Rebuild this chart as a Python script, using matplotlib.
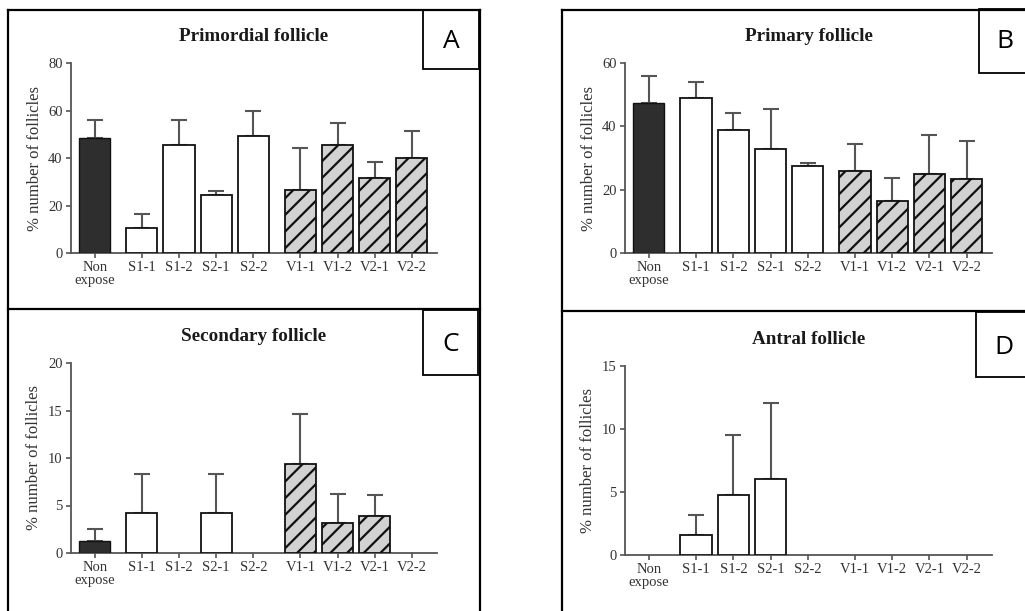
import matplotlib
matplotlib.use("Agg")
import matplotlib.pyplot as plt
from matplotlib.lines import Line2D
from matplotlib.patches import Rectangle
import numpy as np

categories = ["Non\nexpose", "S1-1", "S1-2", "S2-1", "S2-2", "V1-1", "V1-2", "V2-1", "V2-2"]

primordial_mean = [48.6, 10.7, 45.4, 24.4, 49.4, 26.6, 45.6, 31.7, 40.1]
primordial_err = [7.2, 5.9, 10.8, 1.8, 10.4, 17.6, 9.3, 6.8, 11.2]

primary_mean = [47.5, 48.9, 38.8, 32.9, 27.4, 25.8, 16.5, 24.8, 23.4]
primary_err = [8.5, 5.2, 5.4, 12.5, 0.9, 8.5, 7.1, 12.6, 11.9]

secondary_mean = [1.26, 4.18, 0.0, 4.18, 0.0, 9.33, 3.12, 3.89, 0.0]
secondary_err = [1.3, 4.14, 0.0, 4.14, 0.0, 5.27, 3.13, 2.18, 0.0]

antral_mean = [0.0, 1.61, 4.75, 6.05, 0.0, 0.0, 0.0, 0.0, 0.0]
antral_err = [0.0, 1.56, 4.78, 6.02, 0.0, 0.0, 0.0, 0.0, 0.0]

titles = ["Primordial follicle", "Primary follicle", "Secondary follicle", "Antral follicle"]
letters = ["A", "B", "C", "D"]
ylims = [80, 60, 20, 15]
yticks = [[0, 20, 40, 60, 80], [0, 20, 40, 60], [0, 5, 10, 15, 20], [0, 5, 10, 15]]
ylabel = "% number of follicles"

W, H = 1025, 611
fig = plt.figure(figsize=(W / 100, H / 100), dpi=100)
plt.rcParams["hatch.linewidth"] = 1.6

serif = "Liberation Serif"
txtc = "#333333"
axc = "#555555"

# group layout: control, S group, V group
pos = np.array([0, 1.27, 2.27, 3.27, 4.27, 5.54, 6.54, 7.54, 8.54])
styles = (["dark"] + ["white"] * 4 + ["hatch"] * 4)

# axes rectangles in pixels: left, right, y-of-zero, y-of-top
ax_px = [(71, 437, 253, 63), (625, 992, 253, 63), (71, 437, 553, 363), (625, 992, 555, 366)]
datasets = [(primordial_mean, primordial_err), (primary_mean, primary_err),
            (secondary_mean, secondary_err), (antral_mean, antral_err)]

for i, ((l, r, y0, yt), (m, e)) in enumerate(zip(ax_px, datasets)):
    ax = fig.add_axes([l / W, 1 - y0 / H, (r - l) / W, (y0 - yt) / H])
    for x, v, s in zip(pos, m, styles):
        if v <= 0:
            continue
        if s == "dark":
            ax.bar(x, v, width=0.84, color="#2e2e2e", edgecolor="#111111", linewidth=1.0, zorder=3)
        elif s == "white":
            ax.bar(x, v, width=0.84, color="white", edgecolor="#111111", linewidth=1.3, zorder=3)
        else:
            ax.bar(x, v, width=0.84, color="#d2d2d2", edgecolor="#111111", linewidth=1.3,
                   hatch="//", zorder=3)
    for x, v, er in zip(pos, m, e):
        if er <= 0:
            continue
        ax.errorbar(x, v, yerr=[[0], [er]], color="#555555", elinewidth=1.5,
                    capsize=6, capthick=1.5, zorder=2)
    ax.set_xlim(-0.64, 9.22)
    ax.set_ylim(0, ylims[i])
    ax.set_yticks(yticks[i])
    ax.set_xticks(pos)
    ax.set_xticklabels(categories, fontfamily=serif, fontsize=10.5, color=txtc, linespacing=0.95)
    for lab in ax.get_yticklabels():
        lab.set_fontfamily(serif)
        lab.set_fontsize(10.5)
        lab.set_color(txtc)
    ax.tick_params(axis="both", direction="out", length=3.5, width=1.2, color=axc, pad=2.5)
    for sp in ["top", "right"]:
        ax.spines[sp].set_visible(False)
    for sp in ["left", "bottom"]:
        ax.spines[sp].set_color(axc)
        ax.spines[sp].set_linewidth(1.3)
    ax.patch.set_alpha(0)
    ax.set_ylabel(ylabel, fontfamily=serif, fontsize=12, color=txtc, labelpad=4)
    ax.set_title(titles[i], fontfamily=serif, fontsize=13.8, fontweight="bold", color="#1a1a1a", pad=16)

# panel frames (figure pixel coordinates)
def line(x0, y0, x1, y1):
    fig.add_artist(Line2D([x0 / W, x1 / W], [1 - y0 / H, 1 - y1 / H], color="black", lw=1.6,
                          transform=fig.transFigure))

line(8, 9.5, 480, 9.5)
line(8, 9.5, 8, 611)
line(480, 9.5, 480, 611)
line(8, 309, 480, 309)
line(562, 9.5, 1030, 9.5)
line(562, 9.5, 562, 611)
line(562, 311, 1030, 311)

letter_boxes = [(423, 479, 9.5, 69), (979, 1030, 9.5, 73), (423, 478, 310, 375), (976, 1030, 312, 377)]
letter_pos = [(451, 42), (1005, 42), (451, 344), (1004, 347)]
for (x0, x1, ya, yb), (tx, ty), L in zip(letter_boxes, letter_pos, letters):
    fig.add_artist(Rectangle((x0 / W, 1 - yb / H), (x1 - x0) / W, (yb - ya) / H, fill=True,
                             facecolor="white", edgecolor="black", lw=1.3, transform=fig.transFigure))
    fig.text(tx / W, 1 - ty / H, L, fontfamily="Open Sans", fontsize=19, ha="center", va="center",
             color="black")

fig.savefig("out.png", dpi=100, facecolor="white")
